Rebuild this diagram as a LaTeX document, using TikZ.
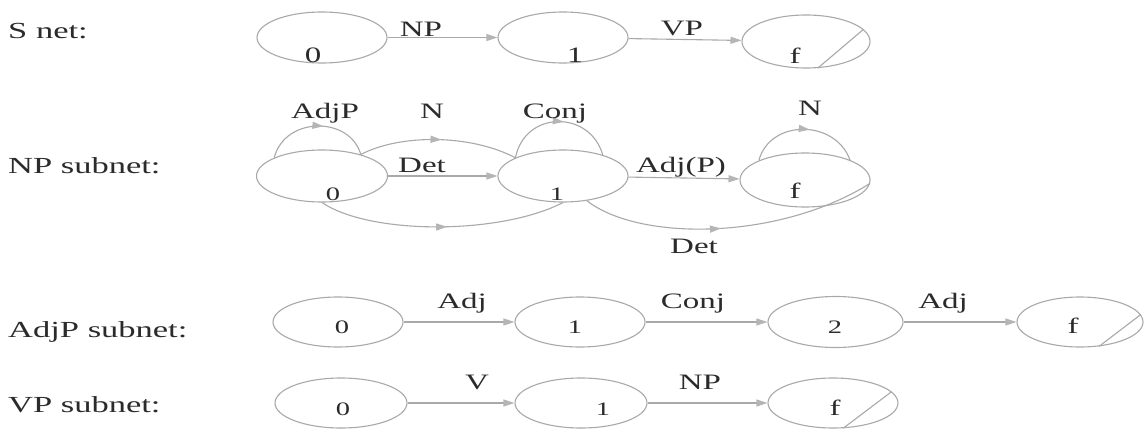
\documentclass[tikz,border=0pt]{standalone}
\usepackage{fontspec}
\setmainfont{Liberation Serif}[FakeStretch=1.5]
\usetikzlibrary{shapes.geometric,arrows.meta,decorations.markings}
\definecolor{edgegray}{HTML}{A9A9A9}
\definecolor{tipgray}{HTML}{B5B5B5}
\definecolor{txt}{HTML}{2B2B2B}
\begin{document}
\begin{tikzpicture}[x=1pt,y=-1pt,
  st/.style={ellipse, draw=edgegray, line width=1.1pt, minimum width=130pt, minimum height=52pt, inner sep=0pt},
  numbig/.style={text=txt, font=\fontsize{22}{24}\selectfont, inner sep=0pt, anchor=base},
  num/.style={text=txt, font=\fontsize{19}{22}\selectfont, inner sep=0pt, anchor=base},
  lbl/.style={text=txt, font=\fontsize{22}{26}\selectfont, inner sep=0pt, anchor=base},
  ttl/.style={text=txt, font=\fontsize{23}{28}\selectfont, inner sep=0pt, anchor=base west},
  edge/.style={draw=edgegray, line width=1.1pt},
  arr/.style={edge, -{Triangle[length=11pt,width=7pt,color=tipgray]}},
  midarr/.style={edge, postaction={decorate}, decoration={markings, mark=at position #1 with {\arrow{Triangle[length=11pt,width=7pt,color=tipgray]}}}},
  slash/.style={draw=edgegray, line width=1.1pt}
]
\useasboundingbox[fill=white] (0,0) rectangle (1144,431);

% ---------- S net ----------
\node[ttl] (tS) at (8,38) {S net:};
\node[st, minimum height=51pt] (s0) at (322,37.5) {};
\node[st, minimum height=51pt] (s1) at (563,37.5) {};
\node[st, minimum width=128pt, minimum height=53pt] (sf) at (806,41.5) {};
\node[numbig] (s0t) at (313,62) {0};
\node[numbig] (s1t) at (575,62) {1};
\node[numbig] (sft) at (795,63) {f};
\draw[slash] (sf.-66) -- (sf.12);
\draw[arr] (s0) -- (s1);
\draw[arr] (s1) -- (sf);
\node[lbl] (sNP) at (421,36) {NP};
\node[lbl] (sVP) at (682,35) {VP};

% ---------- NP subnet ----------
\node[ttl] (tNP) at (8,173) {NP subnet:};
\node[st, minimum width=131pt] (n0) at (322,176) {};
\node[st] (n1) at (563,176) {};
\node[st, minimum height=54pt] (nf) at (805,180) {};
\node[num] (n0t) at (333,200) {0};
\node[num] (n1t) at (557,200) {1};
\node[numbig] (nft) at (795,198) {f};
% loops and arcs
\draw[midarr=0.56] (n0.159) .. controls (285,116) and (350,116) .. (n0.29);
\draw[midarr=0.52] (n0.29) .. controls (400,134) and (470,134) .. (n1.159);
\draw[midarr=0.55] (n1.159) .. controls (525,110) and (590,110) .. (n1.28);
\draw[arr] (n0) -- (n1);
\draw[arr] (n1) -- (nf);
\draw[midarr=0.52] (n0.south) .. controls (370,235) and (500,235) .. (n1.south);
\draw[midarr=0.47] (n1.-46) .. controls (640,242) and (780,240) .. (nf.-3);
\draw[midarr=0.55] (nf.157) .. controls (770,119) and (835,119) .. (nf.24);
\node[lbl] (lAdjP) at (325,118) {AdjP};
\node[lbl] (lN1) at (432,118) {N};
\node[lbl] (lConj) at (555,118) {Conj};
\node[lbl] (lDet1) at (422,172) {Det};
\node[lbl] (lAdjPP) at (681,172) {Adj(P)};
\node[lbl] (lN2) at (810,115) {N};
\node[lbl] (lDet2) at (694,253) {Det};

% ---------- AdjP subnet ----------
\node[ttl] (tAdjP) at (8,337) {AdjP subnet:};
\node[st, minimum height=50pt] (a0) at (338,322) {};
\node[st, minimum height=50pt] (a1) at (580,322) {};
\node[st, minimum width=135pt, minimum height=51pt] (a2) at (835.5,322) {};
\node[st, minimum width=126pt, minimum height=50pt] (af) at (1080,322) {};
\node[num] (a0t) at (342,333) {0};
\node[num] (a1t) at (575,333) {1};
\node[num] (a2t) at (835,333) {2};
\node[numbig] (aft) at (1073,333) {f};
\draw[slash] (af.-52) -- (af.7);
\draw[arr] (a0) -- (a1);
\draw[arr] (a1) -- (a2);
\draw[arr] (a2) -- (af);
\node[lbl] (lAdj1) at (462,308) {Adj};
\node[lbl] (lConj2) at (693,308) {Conj};
\node[lbl] (lAdj2) at (943,308) {Adj};

% ---------- VP subnet ----------
\node[ttl] (tVP) at (8,412) {VP subnet:};
\node[st, minimum width=132pt, minimum height=50pt] (v0) at (341,403) {};
\node[st, minimum width=132pt, minimum height=50pt] (v1) at (581,403) {};
\node[st, minimum height=50pt] (vf) at (833,403) {};
\node[num] (v0t) at (343,415) {0};
\node[num] (v1t) at (603,415) {1};
\node[numbig] (vft) at (835,415) {f};
\draw[slash] (vf.-68) -- (vf.11);
\draw[arr] (v0) -- (v1);
\draw[arr] (v1) -- (vf);
\node[lbl] (lV) at (477,389) {V};
\node[lbl] (lNP2) at (700,389) {NP};
\end{tikzpicture}
\end{document}
